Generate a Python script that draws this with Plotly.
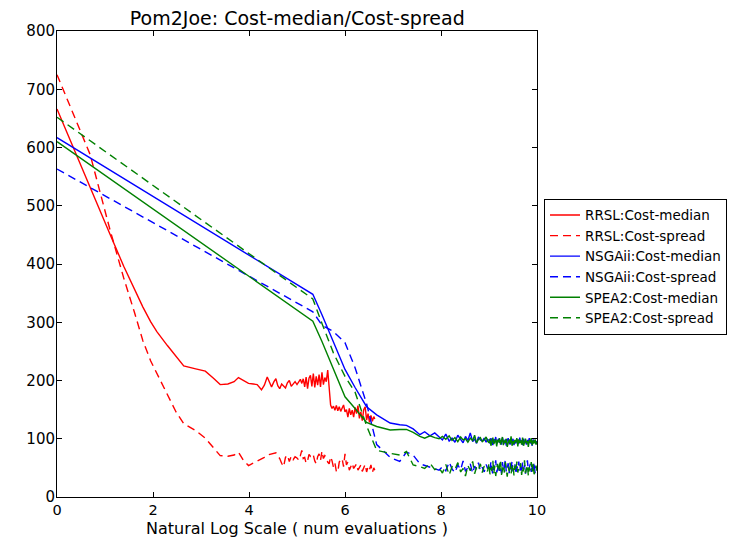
import plotly.graph_objects as go

# ---- evaluation points (natural log of number of evaluations) ----
x_rrsl = [0.0, 0.69, 1.10, 1.39, 1.61, 1.79, 1.95, 2.08, 2.30, 2.48, 2.64, 2.89, 3.09, 3.26, 3.40,
          3.56, 3.69, 3.78, 3.89, 3.99, 4.09, 4.17, 4.26, 4.32, 4.38, 4.43, 4.47, 4.52, 4.56, 4.60,
          4.64, 4.68, 4.72, 4.76, 4.80, 4.84, 4.88, 4.92, 4.96, 5.00, 5.04, 5.07, 5.10, 5.13, 5.16,
          5.19, 5.22, 5.25, 5.28, 5.31, 5.34, 5.37, 5.40, 5.43, 5.46, 5.49, 5.52, 5.55, 5.58, 5.61,
          5.64, 5.67, 5.70, 5.73, 5.76, 5.79, 5.82, 5.85, 5.88, 5.91, 5.94, 5.97, 6.00, 6.03, 6.06,
          6.09, 6.12, 6.15, 6.18, 6.21, 6.24, 6.27, 6.30, 6.33, 6.36, 6.39, 6.42, 6.45, 6.48, 6.51,
          6.54, 6.57, 6.60, 6.62]

rrsl_median = [666, 530, 452, 396, 356, 326, 301, 284, 260, 242, 225, 220, 216, 204, 193,
               194, 198, 205, 199, 195, 194, 193, 184, 192, 206, 195, 189, 198, 203, 191,
               186, 194, 190, 187, 196, 200, 190, 195, 198, 193, 198, 202, 195, 203, 189,
               206, 186, 204, 209, 190, 212, 188, 207, 192, 210, 189, 214, 193, 205, 198,
               218, 186, 158, 152, 156, 149, 157, 148, 155, 147, 153, 158, 146, 150, 137,
               152, 141, 149, 137, 154, 143, 157, 135, 146, 131, 150, 155, 132, 143, 128,
               140, 130, 138, 134]

rrsl_spread = [725, 588, 460, 376, 318, 268, 234, 212, 176, 146, 126, 114, 101, 84, 71,
               70, 72, 77, 62, 54, 58, 62, 65, 68, 72, 73, 74, 76, 76, 71,
               66, 58, 52, 68, 72, 61, 70, 64, 69, 67, 63, 71, 80, 66, 68,
               58, 62, 73, 70, 74, 72, 62, 57, 69, 74, 63, 79, 66, 71, 68,
               60, 57, 69, 62, 51, 58, 44, 43, 60, 64, 66, 52, 74, 55, 60,
               46, 53, 58, 49, 52, 57, 46, 51, 55, 44, 50, 56, 43, 52, 47,
               55, 42, 50, 46]

x_ea = [0.0, 5.33, 5.52, 5.76, 6.00, 6.21, 6.45, 6.66, 6.94, 7.14, 7.28, 7.42, 7.56, 7.66, 7.77, 7.87,
        7.96, 8.03, 8.10, 8.17, 8.23, 8.29, 8.35, 8.41, 8.46, 8.51, 8.56, 8.61, 8.66, 8.70, 8.74,
        8.78, 8.82, 8.86, 8.90, 8.94, 8.97,
        9.00, 9.02, 9.04, 9.06, 9.08, 9.10, 9.12, 9.14, 9.16, 9.18, 9.20, 9.22, 9.24, 9.26, 9.28,
        9.30, 9.32, 9.34, 9.36, 9.38, 9.40, 9.42, 9.44, 9.46, 9.48, 9.50, 9.52, 9.54, 9.56, 9.58,
        9.60, 9.62, 9.64, 9.66, 9.68, 9.70, 9.72, 9.74, 9.76, 9.78, 9.80, 9.82, 9.84, 9.86, 9.88,
        9.90, 9.92, 9.94, 9.96, 9.98, 10.00]

nsga_median = [617, 348, 313, 266, 219, 188, 155, 141, 127, 124, 123, 117, 107, 112, 105, 110,
               103, 98, 108, 96, 101, 94, 106, 99, 93, 104, 97, 110, 95, 100, 92, 103, 98, 96, 101, 94, 99,
               97, 92, 101, 95, 89, 99, 94, 103, 91, 96, 100, 93, 98, 90, 102, 95, 92, 99, 88, 97,
               101, 94, 90, 98, 93, 100, 89, 96, 92, 99, 95, 91, 102, 94, 97, 89, 100, 93, 96, 90,
               98, 94, 101, 92, 95, 88, 99, 93, 97, 91, 96]

nsga_spread = [563, 318, 295, 284, 265, 222, 160, 90, 68, 61, 77, 72, 57, 54, 52, 49,
               46, 52, 45, 60, 48, 42, 55, 47, 62, 44, 50, 57, 41, 53, 48, 59, 45, 51, 43, 56, 49,
               52, 44, 61, 47, 39, 55, 50, 63, 42, 48, 57, 45, 53, 40, 60, 46, 51, 64, 43, 49,
               58, 41, 54, 47, 62, 44, 50, 56, 39, 53, 48, 61, 45, 52, 42, 59, 47, 55, 40, 51,
               63, 44, 49, 57, 43, 54, 46, 60, 41, 52, 48]

spea_median = [610, 302, 267, 219, 172, 152, 128, 121, 115, 116, 116, 111, 104, 101, 105, 102,
               100, 104, 99, 105, 97, 102, 95, 103, 98, 100, 94, 101, 97, 106, 93, 99, 102, 95, 98, 103, 96,
               93, 100, 88, 97, 102, 91, 95, 99, 87, 98, 94, 101, 90, 96, 103, 89, 97, 93, 100, 86,
               95, 99, 92, 104, 88, 96, 91, 98, 94, 101, 87, 99, 93, 97, 90, 102, 88, 95, 100, 92,
               96, 86, 98, 93, 101, 89, 97, 92, 99, 90, 95]

spea_spread = [652, 340, 298, 247, 207, 180, 122, 80, 75, 72, 78, 55, 52, 49, 58, 47,
               50, 41, 56, 38, 52, 47, 59, 43, 49, 36, 54, 45, 61, 40, 51, 46, 57, 42, 53, 48, 44,
               58, 39, 50, 45, 62, 41, 53, 36, 48, 57, 43, 51, 64, 38, 46, 55, 42, 60, 47, 35,
               52, 44, 59, 40, 49, 56, 37, 54, 45, 61, 42, 50, 47, 58, 38, 53, 44, 63, 41, 49,
               55, 36, 51, 46, 60, 43, 57, 39, 48, 54, 45]

x_ticks = [0, 2, 4, 6, 8, 10]
y_ticks = [0, 100, 200, 300, 400, 500, 600, 700, 800]

RED, BLUE, GREEN = "#ff0000", "#0000ff", "#008000"
DASH = "8px,5px"
FONT = "DejaVu Sans"

series = [
    ("RRSL:Cost-median", x_rrsl, rrsl_median, RED, "solid"),
    ("RRSL:Cost-spread", x_rrsl, rrsl_spread, RED, DASH),
    ("NSGAii:Cost-median", x_ea, nsga_median, BLUE, "solid"),
    ("NSGAii:Cost-spread", x_ea, nsga_spread, BLUE, DASH),
    ("SPEA2:Cost-median", x_ea, spea_median, GREEN, "solid"),
    ("SPEA2:Cost-spread", x_ea, spea_spread, GREEN, DASH),
]

fig = go.Figure()
for name, xs, ys, color, dash in series:
    fig.add_trace(go.Scatter(x=xs, y=ys, mode="lines", name=name,
                             line=dict(color=color, width=1.4, dash=dash)))

axis_common = dict(
    showline=True, linecolor="black", linewidth=1, mirror="allticks",
    ticks="inside", ticklen=5, tickcolor="black", tickwidth=1,
    showgrid=False, zeroline=False, automargin=False,
)

fig.update_xaxes(range=[0, 10], tickvals=x_ticks, ticktext=[str(v) for v in x_ticks],
                 tickfont=dict(family=FONT, size=14.5, color="black"),
                 **axis_common)
fig.update_yaxes(range=[0, 800], tickvals=y_ticks, ticktext=[str(v) for v in y_ticks],
                 tickfont=dict(family=FONT, size=15, color="black"),
                 ticklabelstandoff=-2,
                 **axis_common)

# x-axis caption placed below the tick labels
fig.add_annotation(text="Natural Log Scale ( num evaluations )",
                   xref="paper", yref="paper", x=0.5, y=-31.5 / 466,
                   xanchor="center", yanchor="middle", showarrow=False,
                   font=dict(family=FONT, size=16, color="black"))

fig.update_layout(
    width=734, height=537,
    margin=dict(l=57, r=197, t=31, b=40, autoexpand=False),
    paper_bgcolor="white", plot_bgcolor="white",
    font=dict(family=FONT, color="black"),
    title=dict(text="Pom2Joe: Cost-median/Cost-spread", x=0.405, xanchor="center",
               y=1 - 18.5 / 537, yanchor="middle",
               font=dict(family=FONT, size=19, color="black")),
    showlegend=True,
    legend=dict(x=1.0146, xanchor="left", y=0.64, yanchor="top",
                bordercolor="black", borderwidth=1, bgcolor="white",
                font=dict(family=FONT, size=13.5, color="black"),
                itemwidth=30, tracegroupgap=0),
)

fig.write_html("out.html")
